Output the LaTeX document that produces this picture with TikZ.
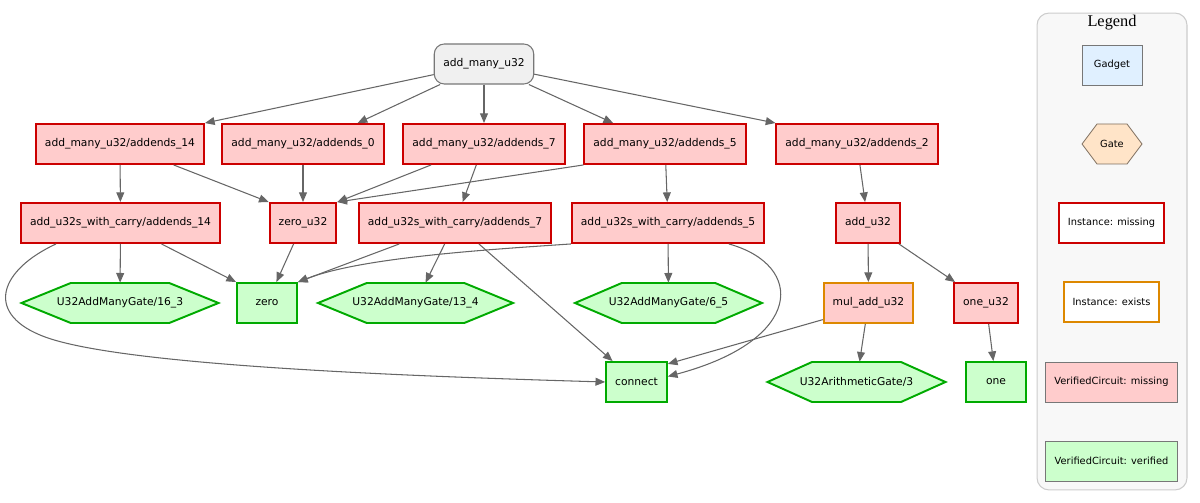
\documentclass[tikz,border=0pt]{standalone}
\usepackage{fontspec}
\usetikzlibrary{arrows.meta}
\newfontfamily\dejavu{DejaVu Sans}
\newfontfamily\titre{Liberation Serif}
\definecolor{rougebord}{HTML}{CC0000}
\definecolor{rose}{HTML}{FFCCCC}
\definecolor{orangebord}{HTML}{DD8800}
\definecolor{vertbord}{HTML}{00AA00}
\definecolor{vertfond}{HTML}{CCFFCC}
\definecolor{grisfond}{HTML}{F0F0F0}
\definecolor{grisbord}{HTML}{777777}
\definecolor{grisfleche}{HTML}{666666}
\definecolor{legfond}{HTML}{F8F8F8}
\definecolor{legbord}{HTML}{CCCCCC}
\definecolor{bleufond}{HTML}{E0F0FF}
\definecolor{pechefond}{HTML}{FFE4C8}
\definecolor{pechebord}{HTML}{7F6F5F}
\tikzset{
  boite/.style={draw,line width=1.1pt,minimum width=1.2cm,minimum height=0.8cm,
    inner xsep=0.18cm,font=\dejavu\fontsize{6.1}{7}\selectfont},
  manque/.style={boite,draw=rougebord,fill=rose},
  existe/.style={boite,draw=orangebord,fill=rose},
  verifie/.style={boite,draw=vertbord,fill=vertfond},
  racine/.style={boite,draw=grisbord,line width=0.6pt,fill=grisfond,rounded corners=0.2cm},
  portetrait/.style={line width=1.1pt,draw=vertbord,fill=vertfond},
  portenoeud/.style={minimum height=0.8cm,inner sep=0pt,font=\dejavu\fontsize{6.1}{7}\selectfont},
  fleche/.style={->,draw=grisfleche,line width=0.6pt},
  legitem/.style={boite,line width=0.45pt,draw=grisbord,font=\dejavu\fontsize{5.6}{6.5}\selectfont}
}
% hexagone : nom, x, y, demi-largeur, texte, style du trait
\newcommand{\porte}[6][portetrait]{%
  \draw[#1] (#3-#5,#4) -- (#3-#5/2,#4-20) -- (#3+#5/2,#4-20) -- (#3+#5,#4)
    -- (#3+#5/2,#4+20) -- (#3-#5/2,#4+20) -- cycle;
  \node[portenoeud,minimum width=#5*0.04cm] (#2) at (#3,#4) {#6};}
\begin{document}
\begin{tikzpicture}[x=0.02cm,y=-0.02cm,>={Triangle[length=5.5pt,width=4.5pt]}]
\useasboundingbox (0,0) rectangle (1200,503);
% la légende
\node[draw=legbord,line width=0.6pt,fill=legfond,rounded corners=0.24cm,
  minimum width=3cm,minimum height=9.54cm] (legende) at (1112,251.5) {};
\node[font=\titre\fontsize{9.3}{10}\selectfont] (legtitre) at (1112,23) {Legend};
\node[legitem,fill=bleufond] (lgadget) at (1112,65) {Gadget};
\porte[line width=0.45pt,draw=pechebord,fill=pechefond]{lgate}{1112}{144}{30}{\fontsize{5.6}{6.5}\selectfont Gate}
\node[legitem,draw=rougebord,line width=1.1pt,fill=white] (lmanque) at (1111.5,223) {Instance: missing};
\node[legitem,draw=orangebord,line width=1.1pt,fill=white] (lexiste) at (1111.5,302) {Instance: exists};
\node[legitem,fill=rose] (lvcmanque) at (1111.5,382) {VerifiedCircuit: missing};
\node[legitem,fill=vertfond] (lvcverif) at (1111.5,461) {VerifiedCircuit: verified};
% les noeuds
\node[racine] (root) at (484,64) {add\_many\_u32};
\node[manque] (a14) at (120,144) {add\_many\_u32/addends\_14};
\node[manque] (a0) at (303,144) {add\_many\_u32/addends\_0};
\node[manque] (a7) at (484,144) {add\_many\_u32/addends\_7};
\node[manque] (a5) at (665,144) {add\_many\_u32/addends\_5};
\node[manque] (a2) at (857,144) {add\_many\_u32/addends\_2};
\node[manque] (c14) at (120.5,223) {add\_u32s\_with\_carry/addends\_14};
\node[manque] (zu) at (303,223) {zero\_u32};
\node[manque] (c7) at (455,223) {add\_u32s\_with\_carry/addends\_7};
\node[manque] (c5) at (668,223) {add\_u32s\_with\_carry/addends\_5};
\node[manque] (addu) at (868,223) {add\_u32};
\porte{g16}{120}{303}{98.5}{U32AddManyGate/16\_3}
\node[verifie] (zero) at (267,303) {zero};
\porte{g13}{415.5}{303}{97.5}{U32AddManyGate/13\_4}
\porte{g6}{668.5}{303}{93.5}{U32AddManyGate/6\_5}
\node[existe] (mul) at (868.5,303) {mul\_add\_u32};
\node[manque] (ou) at (986,303) {one\_u32};
\node[verifie] (connect) at (636.5,382) {connect};
\porte{arith}{856.5}{382}{89}{U32ArithmeticGate/3}
\node[verifie] (one) at (996,382) {one};
% les arcs
\foreach \de/\vers in {root/a7,a14/c14,a0/zu,a7/c7,a5/c5,a2/addu,c14/g16,zu/zero,
  c7/g13,c7/connect,c5/g6,addu/mul,addu/ou,mul/arith,ou/one}
  \draw[fleche] (\de) -- (\vers);
\draw[fleche] (root) -- (a14.north east);
\draw[fleche] (root) -- (a0.21);
\draw[fleche] (root) -- (a5.158);
\draw[fleche] (root) -- (a2.north west);
\draw[fleche] (a14) -- (zu.north west);
\draw[fleche] (a7) -- (zu.north east);
\draw[fleche] (a5.south west) -- (zu.north east);
\draw[fleche] (c14) -- (zero.north west);
\draw[fleche] (c7) -- (zero.north east);
\draw[fleche] (c5.south west) .. controls (480,250) and (360,258) .. (zero.north east);
\draw[fleche] (c14.198) .. controls (0,270) and (-15,312) .. (40,335)
  .. controls (110,365) and (400,376) .. (connect.west);
\draw[fleche] (c5.341) .. controls (805,265) and (805,340) .. (connect.10);
\draw[fleche] (mul.200) -- (connect.30);
\end{tikzpicture}
\end{document}
